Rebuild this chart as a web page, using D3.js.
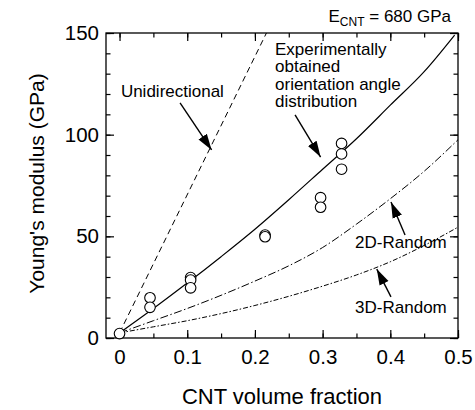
<!DOCTYPE html>
<html>
<head>
<meta charset="utf-8">
<script src="https://cdn.jsdelivr.net/npm/d3@7"></script>
<style>
  body { margin: 0; background: #fff; }
  svg text { font-family: "Liberation Sans", Arial, sans-serif; fill: #000; }
</style>
</head>
<body>
<svg id="chart" width="475" height="410"></svg>
<script>
// Data
var xTicks = [0, 0.1, 0.2, 0.3, 0.4, 0.5];
var yTicks = [0, 50, 100, 150];

// measured points (volume fraction, modulus)
var measVf = [0, 0.045, 0.045, 0.105, 0.105, 0.105, 0.215, 0.215, 0.297, 0.297, 0.328, 0.328, 0.328];
var measE  = [2.2, 19.8, 15.1, 29.7, 28.5, 24.7, 50.6, 49.8, 69, 64.3, 95.7, 90.5, 83];

// model curves
var uniVf = [0, 0.217];
var uniE  = [2.5, 150];

var curveVf = [0, 0.05, 0.1, 0.15, 0.2, 0.25, 0.3, 0.35, 0.4, 0.45, 0.495];
var expE    = [2.5, 14.5, 27, 40, 53.5, 68, 83, 98, 114.5, 131, 149];

var randVf  = [0, 0.05, 0.1, 0.15, 0.2, 0.25, 0.3, 0.35, 0.4, 0.45, 0.5];
var rand2dE = [2.5, 8.5, 14.5, 21, 28, 35.5, 44.5, 56, 68.5, 82, 97.5];
var rand3dE = [2.5, 5.5, 8.5, 12, 16, 20.5, 25.5, 31, 37.5, 45.5, 54.5];

// annotations: label lines, label position and arrow (tail -> tip), data units
var notes = [
  {lines: ["Unidirectional"], at: [0.002, 118.5], from: [0.0894, 115.6], to: [0.136, 92.5]},
  {lines: ["Experimentally", "obtained", "orientation angle", "distribution"], at: [0.2297, 139.2], from: [0.2593, 109.7], to: [0.297, 89]},
  {lines: ["2D-Random"], at: [0.348, 44.4], from: [0.4218, 50.7], to: [0.401, 66.9]},
  {lines: ["3D-Random"], at: [0.348, 12.1], from: [0.401, 20.2], to: [0.38, 33.9]}
];

const svg = d3.select('#chart');
const margin = {top: 33, bottom: 72, left: 106, right: 17};
var width = 475 - margin.left - margin.right;
var height = 410 - margin.top - margin.bottom;

const g = svg.append('g')
  .attr('transform', `translate(${margin.left}, ${margin.top})`);

const xscale = d3.scaleLinear().domain([-0.02, 0.5]).range([0, width]);
const yscale = d3.scaleLinear().domain([0, 150]).range([height, 0]);

svg.append('defs').append('clipPath').attr('id', 'plotClip')
  .append('rect').attr('width', width).attr('height', height);

var arrow = svg.select('defs').append('marker')
  .attr('id', 'head')
  .attr('markerUnits', 'userSpaceOnUse')
  .attr('markerWidth', 18).attr('markerHeight', 12)
  .attr('viewBox', '0 -6 18 12')
  .attr('refX', 16).attr('refY', 0)
  .attr('orient', 'auto');
arrow.append('path').attr('d', 'M0,-5L16,0L0,5Z').style('fill', '#000');

// Axes: ticks point inward, frame on all four sides
var minorX = d3.range(0, 11).map(function(i) { return i * 0.05; });
var minorY = d3.range(0, 16).map(function(i) { return i * 10; });

function styleAxis(sel) {
  sel.selectAll('.domain').remove();
  sel.selectAll('line').style('stroke', '#000').style('stroke-width', 1.2);
  sel.selectAll('text').style('font-size', '20.5px');
}

g.append('g').attr('transform', `translate(0,${height})`)
  .call(d3.axisBottom(xscale).tickValues(minorX).tickSize(-4.5).tickSizeOuter(0).tickFormat(''))
  .call(styleAxis);
g.append('g').attr('transform', `translate(0,${height})`)
  .call(d3.axisBottom(xscale).tickValues(xTicks).tickSize(-8).tickSizeOuter(0).tickPadding(11).tickFormat(function(d) { return String(d); }))
  .call(styleAxis);
g.append('g')
  .call(d3.axisTop(xscale).tickValues(minorX).tickSize(-4.5).tickSizeOuter(0).tickFormat(''))
  .call(styleAxis);
g.append('g')
  .call(d3.axisTop(xscale).tickValues(xTicks).tickSize(-8).tickSizeOuter(0).tickFormat(''))
  .call(styleAxis);

g.append('g')
  .call(d3.axisLeft(yscale).tickValues(minorY).tickSize(-4.5).tickSizeOuter(0).tickFormat(''))
  .call(styleAxis);
g.append('g')
  .call(d3.axisLeft(yscale).tickValues(yTicks).tickSize(-8).tickSizeOuter(0).tickPadding(7).tickFormat(function(d) { return String(d); }))
  .call(styleAxis);
g.append('g').attr('transform', `translate(${width},0)`)
  .call(d3.axisRight(yscale).tickValues(minorY).tickSize(-4.5).tickSizeOuter(0).tickFormat(''))
  .call(styleAxis);
g.append('g').attr('transform', `translate(${width},0)`)
  .call(d3.axisRight(yscale).tickValues(yTicks).tickSize(-8).tickSizeOuter(0).tickFormat(''))
  .call(styleAxis);

g.append('rect')
  .attr('width', width).attr('height', height)
  .style('fill', 'none').style('stroke', '#000').style('stroke-width', 1.3);

// Curves
var line = d3.line()
  .x(function(d) { return xscale(d[0]); })
  .y(function(d) { return yscale(d[1]); })
  .curve(d3.curveMonotoneX);

var curves = [
  {vf: uniVf, e: uniE, dash: '6,4', w: 1},
  {vf: curveVf, e: expE, dash: null, w: 1.2},
  {vf: randVf, e: rand2dE, dash: '8,2.5,1.5,2.5', w: 1},
  {vf: randVf, e: rand3dE, dash: '5,2,1.5,2', w: 1}
];

var plot = g.append('g').attr('clip-path', 'url(#plotClip)');
plot.selectAll('.model')
  .data(curves)
  .enter().append('path')
  .attr('class', 'model')
  .attr('d', function(c) { return line(d3.zip(c.vf, c.e)); })
  .style('fill', 'none')
  .style('stroke', '#000')
  .style('stroke-width', function(c) { return c.w; })
  .style('stroke-dasharray', function(c) { return c.dash; });

// Measured points
g.selectAll('.pt')
  .data(d3.zip(measVf, measE))
  .enter().append('circle')
  .attr('class', 'pt')
  .attr('cx', function(d) { return xscale(d[0]); })
  .attr('cy', function(d) { return yscale(d[1]); })
  .attr('r', 5.3)
  .style('fill', '#fff')
  .style('stroke', '#000')
  .style('stroke-width', 1.1);

// Annotations
notes.forEach(function(n) {
  var t = g.append('text')
    .attr('x', xscale(n.at[0]))
    .attr('y', yscale(n.at[1]))
    .style('font-size', '17px');
  n.lines.forEach(function(s, i) {
    t.append('tspan')
      .attr('x', xscale(n.at[0]))
      .attr('dy', i === 0 ? 0 : 17.5)
      .text(s);
  });
  g.append('line')
    .attr('x1', xscale(n.from[0])).attr('y1', yscale(n.from[1]))
    .attr('x2', xscale(n.to[0])).attr('y2', yscale(n.to[1]))
    .style('stroke', '#000').style('stroke-width', 1.4)
    .attr('marker-end', 'url(#head)');
});

// E_CNT note
var ecnt = svg.append('text')
  .attr('x', 451).attr('y', 22)
  .attr('text-anchor', 'end')
  .style('font-size', '17px');
ecnt.append('tspan').text('E');
ecnt.append('tspan').attr('dy', 4).style('font-size', '12px').text('CNT');
ecnt.append('tspan').attr('dy', -4).text(' = 680 GPa');

// Axis titles
svg.append('text')
  .attr('x', margin.left + width / 2)
  .attr('y', 404)
  .attr('text-anchor', 'middle')
  .style('font-size', '22px')
  .text('CNT volume fraction');

svg.append('text')
  .attr('transform', `translate(44, ${margin.top + height / 2 - 2}) rotate(-90)`)
  .attr('text-anchor', 'middle')
  .style('font-size', '21px')
  .text("Young's modulus (GPa)");
</script>
</body>
</html>
